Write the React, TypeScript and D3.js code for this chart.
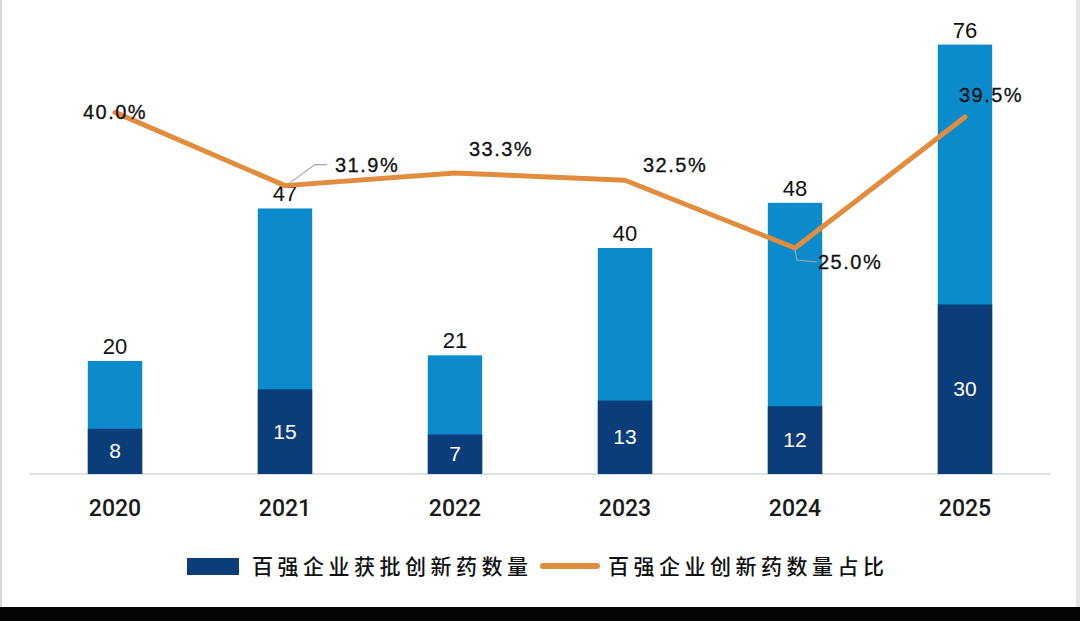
import { useMemo } from 'react'
import * as d3 from 'd3'

const years = ['2020', '2021', '2022', '2023', '2024', '2025']
const totalCounts = [20, 47, 21, 40, 48, 76]
const topCounts = [8, 15, 7, 13, 12, 30]
const shareLabels = ['40.0%', '31.9%', '33.3%', '32.5%', '25.0%', '39.5%']
const shares = [0.4, 0.319, 0.333, 0.325, 0.25, 0.395]

const legendBar = '百强企业获批创新药数量'
const legendLine = '百强企业创新药数量占比'

// label placement relative to each line point: dx, dy, anchor, leader line
const shareLabelLayout: { dx: number; dy: number; anchor: string; leader?: [number, number][] }[] = [
  { dx: 0, dy: 7, anchor: 'middle' },
  { dx: 50, dy: -14, anchor: 'start', leader: [[5, -3], [30, -21], [42, -21]] },
  { dx: 46, dy: -17, anchor: 'middle' },
  { dx: 18, dy: -8, anchor: 'start' },
  { dx: 23, dy: 21, anchor: 'start', leader: [[0, 2], [2, 12], [22, 14]] },
  { dx: 26, dy: -15, anchor: 'middle' },
]

const width = 1080
const height = 621
const margin = { top: 22, left: 30, right: 30, baseline: 474 }

const lightBlue = '#0b8bcb'
const navy = '#0c3d7b'
const orange = '#e28c3e'

export default function App() {
  const chart = useMemo(() => {
    const x = d3
      .scaleBand<string>()
      .domain(years)
      .range([margin.left, width - margin.right])
      .paddingInner(0.68)
      .paddingOuter(0.34)
    const y = d3.scaleLinear().domain([0, 80]).range([margin.baseline, margin.top])
    const yShare = d3.scaleLinear().domain([0, 0.5]).range([margin.baseline, margin.top])
    const line = d3
      .line<number>()
      .x((_, i) => (x(years[i]) ?? 0) + x.bandwidth() / 2)
      .y((d) => yShare(d))
    return { x, y, yShare, line }
  }, [])

  const { x, y, yShare, line } = chart
  const bw = x.bandwidth()
  const numFont = '"Liberation Sans", Arial, sans-serif'
  const yearFont = 'Roboto, "Liberation Sans", sans-serif'
  const cjkFont = '"Noto Sans CJK SC", sans-serif'

  return (
    <div style={{ position: 'absolute', left: 0, top: 0, width, height }}>
      <svg width={width} height={height} viewBox={`0 0 ${width} ${height}`}>
        <rect x={0} y={0} width={width} height={height} fill="#ffffff" />
        <rect x={0} y={0} width={2} height={607} fill="#d9d9d9" />
        <rect x={1076} y={0} width={4} height={607} fill="#e4e4e4" />
        <rect x={0} y={607} width={width} height={height - 607} fill="#050505" />

        <line x1={margin.left} x2={width - margin.right} y1={margin.baseline} y2={margin.baseline} stroke="#d2d6dc" strokeWidth={1.5} />

        {years.map((yr, i) => {
          const x0 = x(yr) ?? 0
          return (
            <g key={yr}>
              <rect x={x0} y={y(totalCounts[i])} width={bw} height={y(0) - y(totalCounts[i])} fill={lightBlue} />
              <rect x={x0} y={y(topCounts[i])} width={bw} height={y(0) - y(topCounts[i])} fill={navy} />
              <text
                x={x0 + bw / 2}
                y={y(totalCounts[i]) - 7}
                textAnchor="middle"
                fontFamily={numFont}
                fontSize={22}
                fill="#111"
              >
                {totalCounts[i]}
              </text>
              <text
                x={x0 + bw / 2}
                y={(y(topCounts[i]) + y(0)) / 2 + 7}
                textAnchor="middle"
                fontFamily={numFont}
                fontSize={21}
                fill="#ffffff"
              >
                {topCounts[i]}
              </text>
              <text
                x={x0 + bw / 2}
                y={516}
                textAnchor="middle"
                fontFamily={yearFont}
                fontWeight={500}
                fontSize={23}
                fill="#1a1a1a"
              >
                {yr}
              </text>
            </g>
          )
        })}

        <path d={line(shares) ?? ''} fill="none" stroke={orange} strokeWidth={5} strokeLinejoin="round" strokeLinecap="round" />

        {shares.map((s, i) => {
          const px = (x(years[i]) ?? 0) + bw / 2
          const py = yShare(s)
          const lay = shareLabelLayout[i]
          return (
            <g key={years[i]}>
              {lay.leader && (
                <polyline
                  points={lay.leader.map(([a, b]) => `${px + a},${py + b}`).join(' ')}
                  fill="none"
                  stroke="#a6a6a6"
                  strokeWidth={1.2}
                />
              )}
              <text
                x={px + lay.dx}
                y={py + lay.dy}
                textAnchor={lay.anchor}
                fontFamily={numFont}
                fontSize={20}
                letterSpacing={1.5}
                stroke="#111"
                strokeWidth={0.3}
                fill="#111"
              >
                {shareLabels[i]}
              </text>
            </g>
          )
        })}

        <rect x={187} y={558} width={52} height={17} fill={navy} />
        <text x={252} y={574} fontFamily={cjkFont} fontWeight={500} fontSize={21} letterSpacing={4.5} fill="#111">
          {legendBar}
        </text>
        <line x1={543} x2={597} y1={566} y2={566} stroke={orange} strokeWidth={6} strokeLinecap="round" />
        <text x={608} y={574} fontFamily={cjkFont} fontWeight={500} fontSize={21} letterSpacing={4.5} fill="#111">
          {legendLine}
        </text>
      </svg>
    </div>
  )
}
